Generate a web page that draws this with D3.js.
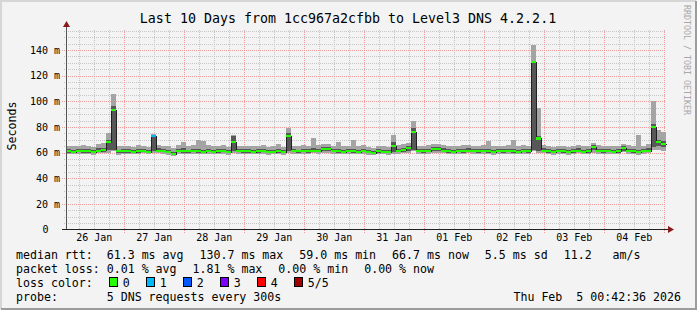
<!DOCTYPE html>
<html>
<head>
<meta charset="utf-8">
<script src="https://cdn.jsdelivr.net/npm/d3@7"></script>
<style>
  body { margin: 0; background: #fff; }
  svg text { font-family: "DejaVu Sans Mono", monospace; white-space: pre; }
</style>
</head>
<body>
<svg id="chart" width="697" height="310"></svg>
<script>
// time range of the graph (10 days ending at the stamp), 2h consolidated steps
const startTime = Date.UTC(2026, 0, 26, 0, 42, 36),
      endTime = Date.UTC(2026, 1, 5, 0, 42, 36),
      stepMs = 2 * 3600 * 1000;

// median rtt per step (ms)
const median = [
  61.0, 60.8, 61.4, 60.9, 61.2, 60.6, 61.5, 61.8, 68.0, 93.0, 60.9, 61.2,
  61.2, 60.7, 61.0, 61.5, 60.8, 73.0, 61.6, 61.1, 60.6, 59.0, 61.3, 61.0,
  60.9, 61.4, 61.0, 60.7, 61.2, 60.8, 61.0, 61.3, 60.6, 68.0, 61.1, 60.9,
  61.2, 60.8, 61.0, 61.4, 60.5, 60.8, 61.0, 60.6, 73.0, 61.2, 60.9, 61.3,
  60.9, 61.5, 61.2, 62.5, 63.0, 61.4, 61.0, 60.7, 61.3, 61.0, 60.8, 61.2,
  60.6, 59.6, 61.0, 60.8, 60.5, 65.0, 61.2, 61.8, 63.5, 76.0, 61.3, 61.0,
  61.4, 62.8, 63.0, 61.5, 61.0, 60.8, 61.3, 61.0, 61.6, 61.2, 60.9, 61.3,
  61.0, 60.7, 61.2, 60.9, 61.4, 61.1, 60.8, 61.3, 61.0, 130.7, 71.0, 61.5,
  61.0, 60.6, 61.2, 60.9, 60.4, 61.1, 61.5, 60.8, 61.0, 64.4, 61.3, 60.9,
  61.2, 60.8, 61.0, 63.6, 61.4, 61.0, 60.7, 61.2, 61.5, 80.0, 68.0, 66.7
];
// smoke: lowest ping, 2nd ping, 4th ping, highest ping per step (ms)
const pingLow = [
  58.9, 58.6, 59.2, 58.7, 59.0, 58.5, 59.3, 59.5, 60.0, 61.0, 58.4, 59.0,
  59.0, 58.6, 58.8, 59.3, 58.7, 60.0, 59.4, 59.0, 58.5, 57.4, 59.1, 58.9,
  58.8, 59.2, 59.0, 58.6, 59.1, 58.7, 58.9, 59.2, 58.5, 60.0, 59.0, 58.8,
  59.0, 58.7, 58.9, 59.2, 58.3, 58.6, 58.8, 58.5, 60.0, 59.0, 58.7, 59.1,
  58.8, 59.3, 59.0, 59.8, 60.0, 59.2, 58.9, 58.6, 59.1, 58.9, 58.6, 59.0,
  58.4, 58.0, 58.8, 58.6, 58.3, 59.0, 59.1, 59.5, 60.0, 61.0, 59.2, 58.9,
  59.2, 59.8, 60.0, 59.3, 58.9, 58.7, 59.1, 58.9, 59.4, 59.0, 58.7, 59.1,
  58.8, 58.5, 59.0, 58.7, 59.2, 58.9, 58.6, 59.1, 58.8, 61.0, 60.0, 59.3,
  58.9, 58.4, 59.0, 58.7, 58.2, 58.9, 59.3, 58.6, 58.8, 60.0, 59.1, 58.7,
  59.0, 58.6, 58.8, 60.2, 59.2, 58.8, 58.5, 59.0, 59.4, 62.0, 62.0, 61.5
];
const pingLow2 = [
  59.8, 59.6, 60.2, 59.7, 60.0, 59.5, 60.4, 60.8, 62.0, 62.0, 59.7, 60.0,
  60.0, 59.6, 59.9, 60.4, 59.7, 61.5, 60.5, 60.1, 59.5, 58.3, 60.2, 59.9,
  59.8, 60.3, 60.0, 59.7, 60.2, 59.8, 60.0, 60.3, 59.6, 61.0, 60.1, 59.8,
  60.0, 59.7, 59.9, 60.3, 59.4, 59.7, 59.9, 59.5, 61.0, 60.1, 59.8, 60.2,
  59.8, 60.4, 60.1, 61.0, 61.5, 60.3, 60.0, 59.6, 60.2, 60.0, 59.7, 60.1,
  59.4, 58.9, 59.9, 59.7, 59.4, 60.5, 60.2, 60.7, 61.0, 62.0, 60.3, 60.0,
  60.3, 61.2, 61.4, 60.4, 60.0, 59.8, 60.2, 60.0, 60.5, 60.1, 59.8, 60.2,
  59.9, 59.6, 60.1, 59.8, 60.3, 60.0, 59.7, 60.2, 59.9, 62.0, 61.0, 60.4,
  59.9, 59.5, 60.1, 59.8, 59.3, 60.0, 60.4, 59.7, 59.9, 62.0, 60.2, 59.8,
  60.1, 59.7, 59.9, 61.5, 60.3, 59.9, 59.6, 60.1, 60.5, 64.0, 65.0, 64.0
];
const pingHigh2 = [
  62.6, 62.2, 63.0, 62.5, 62.8, 62.0, 63.4, 63.8, 70.0, 96.0, 62.4, 62.8,
  62.6, 62.1, 62.5, 63.0, 62.2, 73.5, 63.2, 62.6, 62.0, 60.8, 62.9, 63.2,
  62.4, 63.0, 62.8, 62.3, 62.9, 62.4, 62.6, 63.0, 62.2, 73.0, 62.7, 62.5,
  62.8, 62.3, 62.5, 63.1, 62.0, 62.4, 62.8, 62.1, 75.0, 62.9, 62.4, 63.0,
  62.5, 63.2, 63.0, 64.2, 64.6, 63.1, 62.7, 62.3, 63.0, 62.8, 62.4, 62.9,
  62.1, 61.4, 62.6, 62.4, 62.1, 68.0, 63.0, 63.4, 65.0, 79.0, 63.0, 62.7,
  63.1, 64.2, 64.4, 63.2, 62.7, 62.4, 62.9, 62.6, 63.3, 62.9, 62.6, 63.0,
  62.6, 62.3, 62.8, 62.5, 63.1, 62.8, 62.4, 62.9, 62.6, 131.5, 73.0, 63.2,
  62.6, 62.2, 62.8, 62.5, 62.0, 62.7, 63.2, 62.4, 62.6, 65.8, 62.9, 62.5,
  62.8, 62.3, 62.6, 65.0, 63.0, 62.6, 62.3, 62.8, 63.2, 82.0, 70.0, 69.0
];
const pingHigh = [
  65.5, 64.8, 65.2, 66.0, 65.0, 64.6, 66.8, 67.2, 75.0, 106.0, 64.9, 65.3,
  65.0, 64.5, 65.8, 65.3, 64.4, 74.5, 66.0, 65.2, 64.8, 63.5, 65.6, 68.5,
  65.2, 66.0, 69.5, 69.0, 65.8, 64.9, 65.3, 65.8, 64.6, 74.0, 65.5, 65.1,
  65.4, 64.8, 65.0, 65.9, 64.0, 65.2, 66.4, 64.6, 79.0, 65.5, 64.9, 65.7,
  65.0, 71.0, 66.0, 67.0, 66.5, 65.5, 68.0, 64.8, 65.4, 69.5, 65.0, 65.6,
  64.6, 63.8, 65.4, 65.0, 64.5, 73.5, 66.0, 66.5, 67.5, 85.0, 65.5, 65.2,
  65.8, 66.5, 66.8, 65.6, 65.2, 64.8, 65.5, 66.2, 66.0, 65.4, 65.0, 65.8,
  68.8, 65.0, 65.5, 65.0, 66.0, 70.0, 64.8, 65.6, 65.2, 144.0, 95.0, 66.0,
  65.3, 64.6, 65.5, 65.0, 64.3, 65.4, 66.2, 64.9, 65.2, 67.5, 65.6, 65.0,
  65.5, 64.8, 65.2, 66.8, 65.6, 65.0, 74.0, 65.4, 66.5, 100.0, 78.0, 76.0
];
// pings lost per step (of 5)
const lost = [
  0, 0, 0, 0, 0, 0, 0, 0, 0, 0, 0, 0,
  0, 0, 0, 0, 0, 1, 0, 0, 0, 0, 0, 0,
  0, 0, 0, 0, 0, 0, 0, 0, 0, 0, 0, 0,
  0, 0, 0, 0, 0, 0, 0, 0, 0, 0, 0, 0,
  0, 0, 0, 0, 0, 0, 0, 0, 0, 0, 0, 0,
  0, 0, 0, 0, 0, 0, 0, 0, 0, 0, 0, 0,
  0, 0, 0, 0, 0, 0, 0, 0, 0, 0, 0, 0,
  0, 0, 0, 0, 0, 0, 0, 0, 0, 0, 0, 0,
  0, 0, 0, 0, 0, 0, 0, 0, 0, 0, 0, 0,
  0, 0, 0, 0, 0, 0, 0, 0, 0, 0, 0, 0
];

const lossColors = ["#26ff00", "#00b8ff", "#0059ff", "#7e00ff", "#ff0000", "#a10000"];
const lossLabels = ["0", "1", "2", "3", "4", "5/5"];
const yTicks = [0, 20, 40, 60, 80, 100, 120, 140];
const yTickLabels = ["0", "20 m", "40 m", "60 m", "80 m", "100 m", "120 m", "140 m"];

const title = "Last 10 Days from 1cc967a2cfbb to Level3 DNS 4.2.2.1";
const rttLegend = ["median rtt:  61.3 ms avg", "130.7 ms max", "59.0 ms min", "66.7 ms now", "5.5 ms sd", "11.2   am/s"];
const lossLegend = ["packet loss: 0.01 % avg", "1.81 % max", "0.00 % min", "0.00 % now"];
const probeText = "probe:       5 DNS requests every 300s";
const stamp = "Thu Feb  5 00:42:36 2026";

const W = 697, H = 310;
const plotLeft = 66, plotRight = 666, plotTop = 29.5, plotBottom = 229.5;
const halfDay = 12 * 3600 * 1000;

var svg = d3.select("#chart");

var x = d3.scaleUtc()
    .domain([new Date(startTime), new Date(endTime)])
    .range([plotLeft, plotRight]);

var y = d3.scaleLinear()
    .domain([0, 156])
    .range([plotBottom, plotTop]);

function px(v) { return Math.round(v) + 0.5; }

// background and 3d frame
svg.append("rect").attr("width", W).attr("height", H).attr("fill", "#f3f3f3");
svg.append("path").attr("d", "M1,309V1H696").attr("fill", "none")
    .attr("stroke", "#d6d6d6").attr("stroke-width", 2);
svg.append("path").attr("d", "M1,309H696V1").attr("fill", "none")
    .attr("stroke", "#9c9c9c").attr("stroke-width", 2);

// grid
var grid = svg.append("g").attr("shape-rendering", "crispEdges");

grid.selectAll(".minor-x")
    .data(d3.utcHour.every(6).range(new Date(startTime), new Date(endTime)))
  .enter().append("line")
    .attr("x1", d => px(x(d))).attr("x2", d => px(x(d)))
    .attr("y1", plotTop).attr("y2", plotBottom)
    .attr("stroke", "#c6c6c6").attr("stroke-dasharray", "1,1");

grid.selectAll(".minor-y")
    .data(d3.range(5, 157, 5))
  .enter().append("line")
    .attr("x1", plotLeft - 2).attr("x2", plotRight)
    .attr("y1", d => px(y(d))).attr("y2", d => px(y(d)))
    .attr("stroke", "#c6c6c6").attr("stroke-dasharray", "1,1");

grid.selectAll(".major-x")
    .data(d3.utcDay.range(new Date(startTime), new Date(endTime)))
  .enter().append("line")
    .attr("x1", d => px(x(d))).attr("x2", d => px(x(d)))
    .attr("y1", plotTop).attr("y2", plotBottom + 3)
    .attr("stroke", "#f09c9c").attr("stroke-dasharray", "1,1");

grid.selectAll(".major-y")
    .data(yTicks.filter(d => d > 0))
  .enter().append("line")
    .attr("x1", plotLeft - 4).attr("x2", plotRight)
    .attr("y1", d => px(y(d))).attr("y2", d => px(y(d)))
    .attr("stroke", "#f09c9c").attr("stroke-dasharray", "1,1");

// data steps
var steps = median.map((m, i) => ({
    t0: new Date(startTime + i * stepMs),
    t1: new Date(Math.min(startTime + (i + 1) * stepMs, endTime)),
    med: m, lo: pingLow[i], lo2: pingLow2[i], hi2: pingHigh2[i], hi: pingHigh[i], loss: lost[i]
}));

var plot = svg.append("g").attr("shape-rendering", "crispEdges");

plot.selectAll(".smoke")
    .data(steps)
  .enter().append("rect")
    .attr("x", d => Math.round(x(d.t0)))
    .attr("width", d => Math.round(x(d.t1)) - Math.round(x(d.t0)))
    .attr("y", d => Math.round(y(d.hi)))
    .attr("height", d => Math.round(y(d.lo)) - Math.round(y(d.hi)))
    .attr("fill", "#a4a4a4");

plot.selectAll(".smoke-dark")
    .data(steps)
  .enter().append("rect")
    .attr("x", d => Math.round(x(d.t0)))
    .attr("width", d => Math.round(x(d.t1)) - Math.round(x(d.t0)))
    .attr("y", d => Math.round(y(d.hi2)))
    .attr("height", d => Math.round(y(d.lo2)) - Math.round(y(d.hi2)))
    .attr("fill", "#575757");

var medPts = steps.map(d => [d.t0, d.med]);
medPts.push([new Date(endTime), median[median.length - 1]]);

plot.append("path")
    .datum(medPts)
    .attr("fill", "none")
    .attr("stroke", "#202020")
    .attr("stroke-width", 1)
    .attr("d", d3.line()
        .curve(d3.curveStepAfter)
        .x(d => px(x(d[0])))
        .y(d => px(y(d[1]))));

plot.selectAll(".med")
    .data(steps)
  .enter().append("rect")
    .attr("x", d => Math.round(x(d.t0)))
    .attr("width", d => Math.round(x(d.t1)) - Math.round(x(d.t0)))
    .attr("y", d => Math.round(y(d.med + 0.8)))
    .attr("height", d => Math.round(y(d.med - 0.8)) - Math.round(y(d.med + 0.8)))
    .attr("fill", d => lossColors[d.loss]);

// axes
svg.append("line")
    .attr("x1", plotLeft + 0.5).attr("x2", plotLeft + 0.5)
    .attr("y1", plotBottom).attr("y2", 25)
    .attr("stroke", "#555").attr("shape-rendering", "crispEdges");
svg.append("line")
    .attr("x1", plotLeft - 4).attr("x2", plotRight + 3)
    .attr("y1", plotBottom).attr("y2", plotBottom)
    .attr("stroke", "#222").attr("shape-rendering", "crispEdges");
svg.append("path").attr("d", `M${plotLeft - 3},27L${plotLeft + 4},27L${plotLeft + 0.5},21Z`).attr("fill", "#8b1a1a");
svg.append("path").attr("d", `M${plotRight + 2},${plotBottom - 3.5}L${plotRight + 2},${plotBottom + 3.5}L${plotRight + 8},${plotBottom}Z`).attr("fill", "#8b1a1a");

// y tick labels
svg.selectAll(".ylab")
    .data(yTicks)
  .enter().append("text")
    .attr("x", (d, i) => i === 0 ? 48.5 : 60)
    .attr("y", d => y(d) + 3.7)
    .attr("text-anchor", "end")
    .attr("font-size", "10px")
    .attr("fill", "#000")
    .text((d, i) => yTickLabels[i]);

// x tick labels centred at noon of each day
var fmt = d3.utcFormat("%d %b");
var labelDays = d3.utcDay.range(new Date(Date.UTC(2026, 0, 26)), new Date(endTime))
    .filter(d => d.getTime() + halfDay < endTime);
svg.selectAll(".xlab")
    .data(labelDays)
  .enter().append("text")
    .attr("x", d => x(new Date(d.getTime() + halfDay)))
    .attr("y", 241)
    .attr("text-anchor", "middle")
    .attr("font-size", "10px")
    .text(d => fmt(d));

// title, unit label, watermark
svg.append("text")
    .attr("x", 348).attr("y", 23)
    .attr("text-anchor", "middle")
    .attr("font-size", "13.3px")
    .text(title);

svg.append("text")
    .attr("transform", "translate(15.5,126) rotate(-90)")
    .attr("text-anchor", "middle")
    .attr("font-size", "11.6px")
    .text("Seconds");

svg.append("text")
    .attr("transform", "translate(683.5,5) rotate(90)")
    .attr("font-size", "8.3px")
    .attr("fill", "#a8a8a8")
    .text("RRDTOOL / TOBI OETIKER");

// legend
const legX = 16, gap = 16, legFont = "11.6px";
var legend = svg.append("g").attr("font-size", legFont);

function legendRow(items, baseY) {
    var cx = legX;
    items.forEach(s => {
        var t = legend.append("text").attr("x", cx).attr("y", baseY).text(s);
        cx += t.node().getComputedTextLength() + gap;
    });
}
legendRow(rttLegend, 259);
legendRow(lossLegend, 273);

var lc = legend.append("text").attr("x", legX).attr("y", 287).text("loss color:");
var bx = legX + lc.node().getComputedTextLength() + gap;
lossLabels.forEach((s, i) => {
    legend.append("rect")
        .attr("x", bx + 0.5).attr("y", 287 - 9.5)
        .attr("width", 8).attr("height", 9)
        .attr("fill", lossColors[i])
        .attr("stroke", "#000")
        .attr("shape-rendering", "crispEdges");
    var t = legend.append("text").attr("x", bx + 14).attr("y", 287).text(s);
    bx += 14 + t.node().getComputedTextLength() + gap;
});

legend.append("text").attr("x", legX).attr("y", 301).text(probeText);
legend.append("text").attr("x", 681).attr("y", 301).attr("text-anchor", "end").text(stamp);
</script>
</body>
</html>
